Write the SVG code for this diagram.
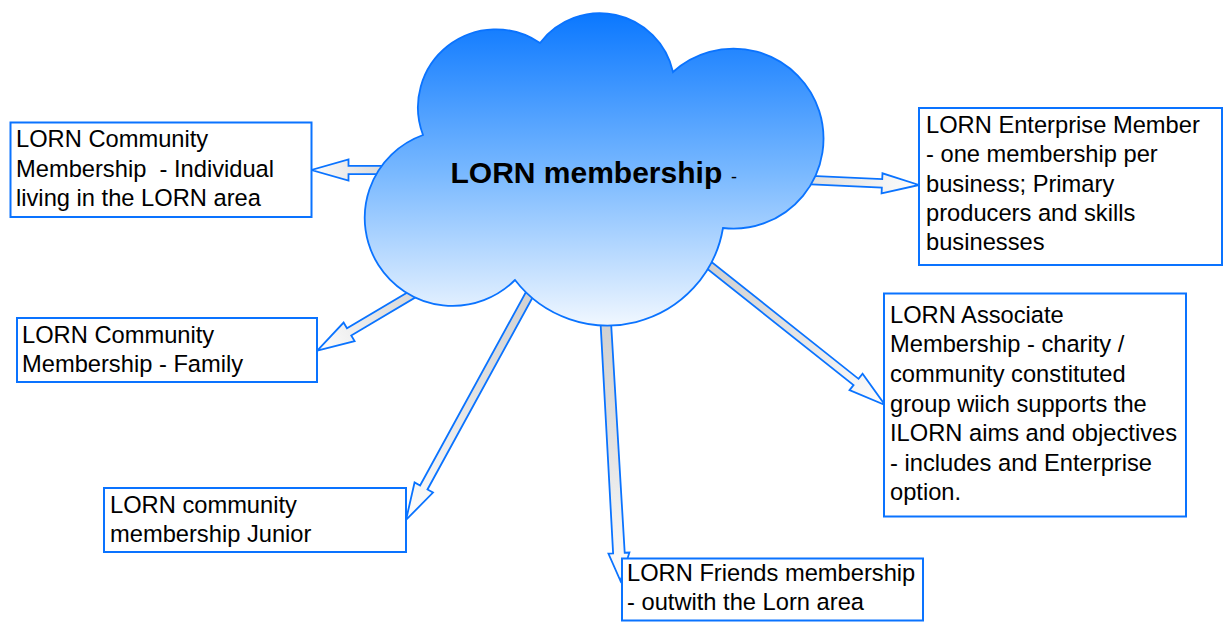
<svg xmlns="http://www.w3.org/2000/svg" width="1223" height="630" viewBox="0 0 1223 630">
<style>
.box{fill:#fff;stroke:#0a73ff;stroke-width:2}
.arrow{fill:url(#ag);stroke:#0a73ff;stroke-width:1.8;stroke-linejoin:miter}
.t{font-family:"Liberation Sans",Arial,Helvetica,sans-serif;font-size:23.7px;fill:#000;white-space:pre}
.title{font-family:"Liberation Sans",Arial,Helvetica,sans-serif;font-size:30px;font-weight:bold;fill:#000}
</style>
<defs>
<linearGradient id="ag" x1="0" y1="0" x2="1" y2="0">
<stop offset="0" stop-color="#cdcdcd"/>
<stop offset="0.5" stop-color="#e2e2e2"/>
<stop offset="1" stop-color="#fdfdfd"/>
</linearGradient>
<linearGradient id="cg" gradientUnits="userSpaceOnUse" x1="0" y1="14" x2="0" y2="330">
<stop offset="0" stop-color="#0b78ff"/>
<stop offset="0.5" stop-color="#78b8ff"/>
<stop offset="1" stop-color="#f4f9ff"/>
</linearGradient>
</defs>
<g id="connectors">
<polygon class="arrow" transform="translate(420,170) rotate(180)" points="0,-4.2 71.5,-4.2 71.5,-10.5 108.5,0 71.5,10.5 71.5,4.2 0,4.2"/>
<polygon class="arrow" transform="translate(720,176) rotate(2.59)" points="0,-4.2 162.2,-4.2 162.2,-10 199.2,0 162.2,10 162.2,4.2 0,4.2"/>
<polygon class="arrow" transform="translate(450,272) rotate(149.33)" points="0,-4.2 117.3,-4.2 117.3,-10.8 154.3,0 117.3,10.8 117.3,4.2 0,4.2"/>
<polygon class="arrow" transform="translate(545,266) rotate(118.69)" points="0,-4.2 252.5,-4.2 252.5,-10.5 289.5,0 252.5,10.5 252.5,4.2 0,4.2"/>
<polygon class="arrow" transform="translate(604.5,300) rotate(86.74)" points="0,-5.2 253.5,-5.8 253.5,-10.5 281.5,0 253.5,10.5 253.5,5.8 0,5.2"/>
<polygon class="arrow" transform="translate(690,250) rotate(38.48)" points="0,-4 212.1,-4 212.1,-10.5 249.1,0 212.1,10.5 212.1,4 0,4"/>
</g>
<g id="cloud">
<path d="M423,135 A78,78 0 0 1 540,43 A75,75 0 0 1 673,72 A90,90 0 1 1 723,228 A117,117 0 0 1 515,280 A88,88 0 1 1 423,135 Z" fill="url(#cg)" stroke="#0a73ff" stroke-width="1.8"/>
<text class="title" x="450.5" y="183">LORN membership<tspan x="731" font-weight="normal" font-size="18">-</tspan></text>
</g>
<g id="node-community-individual">
<rect class="box" x="10.5" y="122.5" width="301" height="94.5"/>
<text class="t" x="16" y="147.3">LORN Community<tspan x="16" dy="29.3">Membership  - Individual</tspan><tspan x="16" dy="29.3">living in the LORN area</tspan></text>
</g>
<g id="node-community-family">
<rect class="box" x="17" y="318" width="300" height="64"/>
<text class="t" x="22" y="343">LORN Community<tspan x="22" dy="29.3">Membership - Family</tspan></text>
</g>
<g id="node-community-junior">
<rect class="box" x="104" y="488" width="302" height="64"/>
<text class="t" x="110" y="513">LORN community<tspan x="110" dy="29.3">membership Junior</tspan></text>
</g>
<g id="node-friends">
<rect class="box" x="622" y="558.5" width="301" height="62"/>
<text class="t" x="627" y="580.7">LORN Friends membership<tspan x="627" dy="29.3">- outwith the Lorn area</tspan></text>
</g>
<g id="node-enterprise">
<rect class="box" x="919" y="108" width="303" height="157"/>
<text class="t" x="926" y="133">LORN Enterprise Member<tspan x="926" dy="29.3">- one membership per</tspan><tspan x="926" dy="29.3">business; Primary</tspan><tspan x="926" dy="29.3">producers and skills</tspan><tspan x="926" dy="29.3">businesses</tspan></text>
</g>
<g id="node-associate">
<rect class="box" x="884" y="293.5" width="302" height="223"/>
<text class="t" x="890" y="322.7">LORN Associate<tspan x="890" dy="29.6">Membership - charity /</tspan><tspan x="890" dy="29.6">community constituted</tspan><tspan x="890" dy="29.6">group wiich supports the</tspan><tspan x="890" dy="29.6">ILORN aims and objectives</tspan><tspan x="890" dy="29.6">- includes and Enterprise</tspan><tspan x="890" dy="29.6">option.</tspan></text>
</g>
</svg>
